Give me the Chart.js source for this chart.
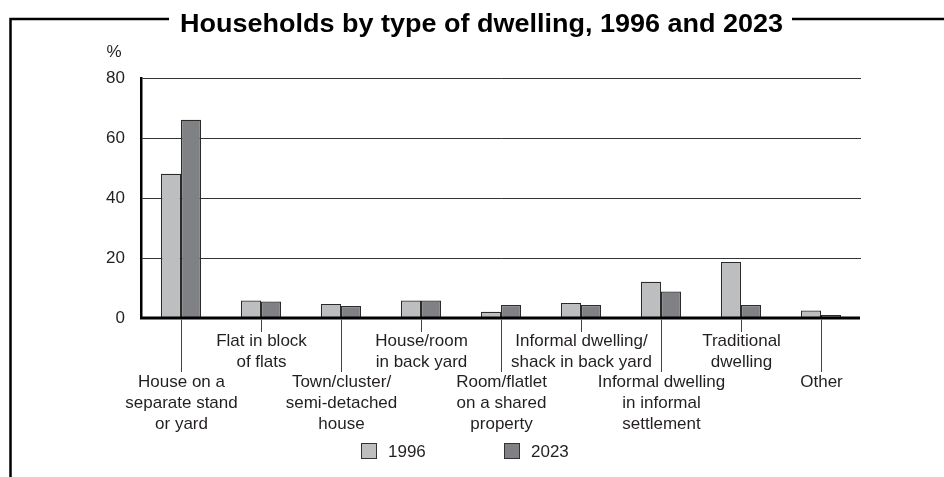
<!DOCTYPE html>
<html>
<head>
<meta charset="utf-8">
<script src="https://cdn.jsdelivr.net/npm/chart.js@4/dist/chart.umd.min.js"></script>
<style>
  html, body { margin: 0; padding: 0; background: #fff; }
  #wrap { width: 944px; height: 477px; position: relative; }
</style>
</head>
<body>
<div id="wrap"><canvas id="c" width="944" height="477"></canvas></div>
<script>
const chartTitle = "Households by type of dwelling, 1996 and 2023";
const unitLabel = "%";
const categories = [
  ["House on a", "separate stand", "or yard"],
  ["Flat in block", "of flats"],
  ["Town/cluster/", "semi-detached", "house"],
  ["House/room", "in back yard"],
  ["Room/flatlet", "on a shared", "property"],
  ["Informal dwelling/", "shack in back yard"],
  ["Informal dwelling", "in informal", "settlement"],
  ["Traditional", "dwelling"],
  ["Other"]
];
const seriesNames = ["1996", "2023"];
const values1996 = [48.1, 5.8, 4.7, 5.8, 2.1, 5.0, 12.1, 18.7, 2.5];
const values2023 = [66.1, 5.5, 4.0, 5.8, 4.3, 4.3, 8.8, 4.3, 1.0];
const yTicks = [0, 20, 40, 60, 80];

const FONT = '"Liberation Sans", Arial, Helvetica, sans-serif';
const TEXT = '#231f20';
const colors = ['#bdbec0', '#808184'];

const decor = {
  id: 'decor',
  afterDatasetsDraw(chart) {
    const ctx = chart.ctx;
    const ca = chart.chartArea;
    const y = chart.scales.y;
    const y0 = y.getPixelForValue(0);
    ctx.save();
    ctx.strokeStyle = '#000';
    ctx.lineWidth = 3;
    ctx.beginPath();
    ctx.moveTo(ca.left - 1, y0);
    ctx.lineTo(ca.right - 1, y0);
    ctx.stroke();
    ctx.restore();
  },
  afterDraw(chart) {
    const ctx = chart.ctx;
    const x = chart.scales.x, y = chart.scales.y;
    const y0 = y.getPixelForValue(0);
    ctx.save();
    // title, fitted to the reference width
    const tx = 481.5, tw = 603;
    ctx.font = 'bold 26px ' + FONT;
    ctx.fillStyle = '#000';
    ctx.textAlign = 'center';
    ctx.textBaseline = 'alphabetic';
    const w = ctx.measureText(chartTitle).width;
    ctx.save();
    ctx.translate(tx, 31.5);
    ctx.scale(tw / w, 1);
    ctx.fillText(chartTitle, 0, 0);
    ctx.restore();
    // frame
    ctx.strokeStyle = '#000';
    ctx.lineWidth = 2.5;
    ctx.beginPath();
    ctx.moveTo(10.5, 477);
    ctx.lineTo(10.5, 19);
    ctx.lineTo(tx - tw / 2 - 11, 19);
    ctx.moveTo(tx + tw / 2 + 9, 19);
    ctx.lineTo(944, 19);
    ctx.stroke();
    // unit label
    ctx.font = '17px ' + FONT;
    ctx.fillStyle = TEXT;
    ctx.textBaseline = 'middle';
    ctx.textAlign = 'center';
    ctx.fillText(unitLabel, 114, 52);
    // category labels with leader lines
    ctx.strokeStyle = '#444';
    ctx.lineWidth = 1;
    categories.forEach((lines, i) => {
      const cx = Math.round(x.getPixelForValue(i)) + 0.5;
      const low = i % 2 === 0;
      const lineEnd = low ? 372 : 332;
      const firstY = low ? 382.5 : 341.5;
      ctx.beginPath();
      ctx.moveTo(cx, y0 + 1.5);
      ctx.lineTo(cx, lineEnd);
      ctx.stroke();
      ctx.textAlign = 'center';
      lines.forEach((t, k) => ctx.fillText(t, cx, firstY + k * 21));
    });
    // legend
    const lx = [361, 504];
    chart.data.datasets.forEach((ds, i) => {
      ctx.fillStyle = ds.backgroundColor;
      ctx.fillRect(lx[i], 443.5, 15, 15);
      ctx.strokeStyle = '#333';
      ctx.lineWidth = 1;
      ctx.strokeRect(lx[i] + 0.5, 443.5, 15, 15);
      ctx.fillStyle = TEXT;
      ctx.textAlign = 'left';
      ctx.fillText(ds.label, lx[i] + 27, 452);
    });
    ctx.restore();
  }
};

new Chart(document.getElementById('c'), {
  type: 'bar',
  data: {
    labels: categories.map(c => c.join(' ')),
    datasets: [
      { label: seriesNames[0], data: values1996, backgroundColor: colors[0], borderColor: '#2b2b2b', borderWidth: 1.2 },
      { label: seriesNames[1], data: values2023, backgroundColor: colors[1], borderColor: '#2b2b2b', borderWidth: 1.2 }
    ]
  },
  options: {
    responsive: false,
    animation: false,
    devicePixelRatio: 1,
    layout: { padding: { left: 0, right: 83, top: 78, bottom: 159 } },
    datasets: { bar: { categoryPercentage: 0.5, barPercentage: 1.0 } },
    plugins: { legend: { display: false }, title: { display: false }, tooltip: { enabled: false } },
    scales: {
      x: { display: false, offset: true },
      y: {
        min: 0, max: 80,
        afterFit(s) { s.width = 141; },
        afterBuildTicks(s) { s.ticks = yTicks.map(v => ({ value: v })); },
        ticks: { padding: 16, color: TEXT, font: { family: FONT, size: 17 } },
        grid: {
          drawTicks: false,
          color: ctx => ctx.tick && ctx.tick.value === 0 ? 'rgba(0,0,0,0)' : '#333',
          lineWidth: 1
        },
        border: { display: true, color: '#000', width: 2.5 }
      }
    }
  },
  plugins: [decor]
});
</script>
</body>
</html>
